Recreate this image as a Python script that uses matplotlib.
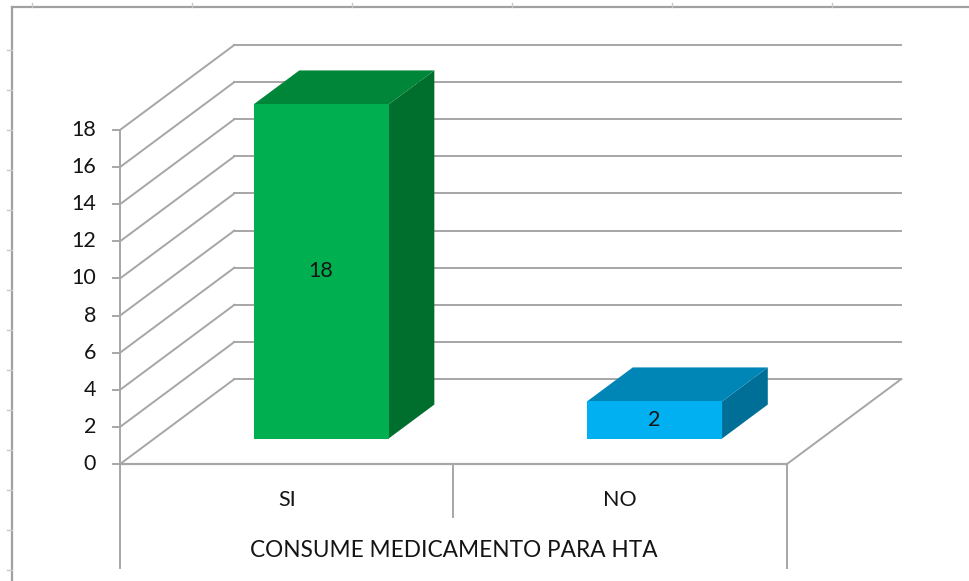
import matplotlib.pyplot as plt
from matplotlib.patches import Polygon
from matplotlib.lines import Line2D

plt.rcParams['font.family'] = ['Lato', 'DejaVu Sans']

categories = ['SI', 'NO']
values = [18, 2]
y_ticks = [0, 2, 4, 6, 8, 10, 12, 14, 16, 18]
axis_title = 'CONSUME MEDICAMENTO PARA HTA'

front_colors = ['#00B050', '#00B0F0']
top_colors = ['#008638', '#0086B6']
side_colors = ['#006F2E', '#006F98']

# oblique depth of the 3d box, in data units (categories, values)
depth_x = 0.343
depth_y = 4.58
bar_w = 0.405
bar_d0, bar_d1 = 0.3, 0.7
grid_c = '#A6A6A6'
txt_c = '#141414'

fig = plt.figure(figsize=(9.69, 5.81), dpi=100)
ax = fig.add_axes([0, 0, 1, 1])
ax.set_xlim(-0.36, 2.546)
ax.set_ylim(-6.30, 25.0)
ax.axis('off')

n = len(categories)
top = y_ticks[-1]

# walls: left side diagonals, back wall lines
for t in y_ticks:
    ax.plot([0, depth_x], [t, t + depth_y], color=grid_c, lw=1.4)
    ax.plot([depth_x, n + depth_x], [t + depth_y, t + depth_y], color=grid_c, lw=1.4)
    ax.plot([-0.02, 0], [t, t], color=grid_c, lw=1.4)
    ax.text(-0.072, t, str(t), ha='right', va='center', fontsize=15.5, color=txt_c)
ax.plot([0, 0], [0, top], color=grid_c, lw=1.4)

# floor
ax.plot([0, n], [0, 0], color=grid_c, lw=1.6)
ax.plot([n, n + depth_x], [0, depth_y], color=grid_c, lw=1.4)

# category dividers under the floor
ax.plot([0, 0], [0, -5.6], color=grid_c, lw=1.4)
ax.plot([n, n], [0, -5.6], color=grid_c, lw=1.4)
for i in range(1, n):
    ax.plot([i, i], [0, -2.86], color=grid_c, lw=1.4)

# bars
for i, (cat, v) in enumerate(zip(categories, values)):
    x0 = i + 0.5 - bar_w / 2 + bar_d0 * depth_x
    x1 = x0 + bar_w
    b0 = bar_d0 * depth_y
    ddx = (bar_d1 - bar_d0) * depth_x
    ddy = (bar_d1 - bar_d0) * depth_y
    front = [(x0, b0), (x1, b0), (x1, b0 + v), (x0, b0 + v)]
    topf = [(x0, b0 + v), (x1, b0 + v), (x1 + ddx, b0 + v + ddy), (x0 + ddx, b0 + v + ddy)]
    side = [(x1, b0), (x1 + ddx, b0 + ddy), (x1 + ddx, b0 + v + ddy), (x1, b0 + v)]
    ax.add_patch(Polygon(side, closed=True, fc=side_colors[i], ec='none', zorder=3))
    ax.add_patch(Polygon(topf, closed=True, fc=top_colors[i], ec='none', zorder=3))
    ax.add_patch(Polygon(front, closed=True, fc=front_colors[i], ec='none', zorder=3))
    ax.text((x0 + x1) / 2, b0 + v / 2, str(v), ha='center', va='center',
            fontsize=15.5, color=txt_c, zorder=4)
    ax.text(i + 0.5, -1.94, cat, ha='center', va='center', fontsize=15.5, color=txt_c)

ax.text(n / 2, -4.63, axis_title, ha='center', va='center', fontsize=16.3, color=txt_c)

# outer chart frame
fx0, fy1 = 12 / 969, 1 - 7 / 581
fig.add_artist(Line2D([fx0, 1], [fy1, fy1], color='#A0A0A0', lw=1.6))
fig.add_artist(Line2D([fx0, fx0], [0, fy1], color='#A0A0A0', lw=1.6))
for px in range(32, 969, 160):
    fig.add_artist(Line2D([px / 969, px / 969], [fy1, fy1 + 4 / 581], color='#C8C8C8', lw=1))
for py in range(50, 581, 40):
    fig.add_artist(Line2D([fx0 - 5 / 969, fx0], [1 - py / 581] * 2, color='#C8C8C8', lw=1))

plt.savefig('out.png', dpi=100)
